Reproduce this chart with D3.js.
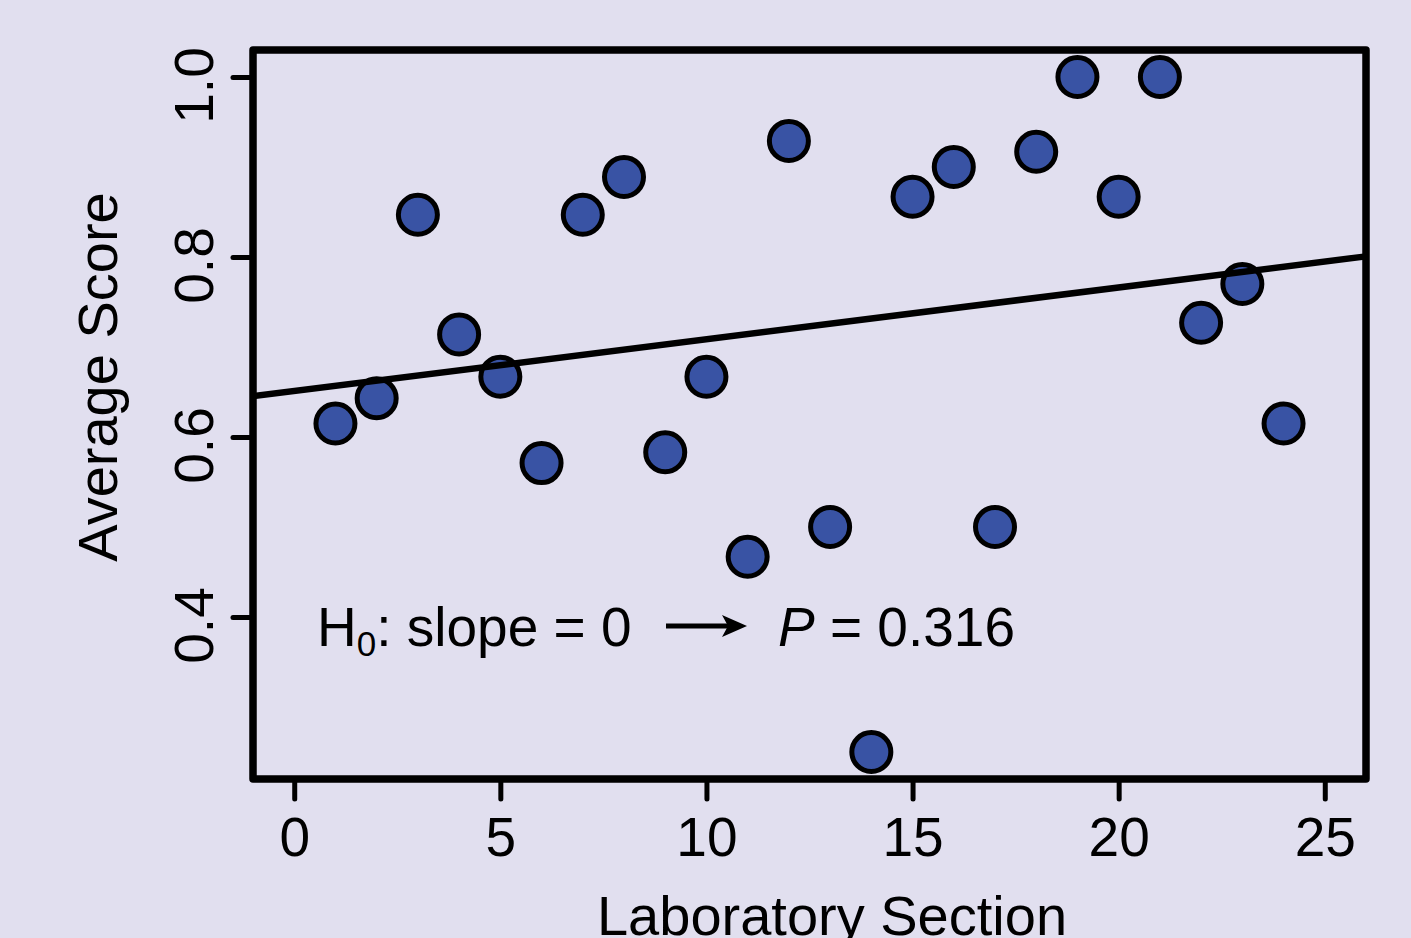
<!DOCTYPE html>
<html>
<head>
<meta charset="utf-8">
<script src="https://cdn.jsdelivr.net/npm/d3@7"></script>
<style>
  html, body { margin: 0; padding: 0; background: #e1dfef; }
  svg { display: block; font-family: "Liberation Sans", Arial, Helvetica, sans-serif; }
</style>
</head>
<body>
<script>
// Lab sections and their average scores
const sections = [1, 2, 3, 4, 5, 6, 7, 8, 9, 10, 11, 12, 13, 14, 15, 16, 17, 18, 19, 20, 21, 22, 23, 24];
const scores = [0.615, 0.643, 0.847, 0.714, 0.667, 0.571, 0.847, 0.889, 0.583, 0.667, 0.467, 0.929,
                0.5, 0.25, 0.867, 0.9, 0.5, 0.917, 1.0, 0.867, 1.0, 0.727, 0.77, 0.615];
const xTicks = [0, 5, 10, 15, 20, 25];
const yTicks = [0.4, 0.6, 0.8, 1.0];

const data = sections.map((s, i) => ({ x: s, y: scores[i] }));

// Least squares fit for the trend line
const mx = d3.mean(sections), my = d3.mean(scores);
const slope = d3.sum(data, d => (d.x - mx) * (d.y - my)) / d3.sum(data, d => (d.x - mx) ** 2);
const intercept = my - slope * mx;

const width = 1411, height = 938;
const svg = d3.select("body").append("svg")
    .attr("width", width)
    .attr("height", height);

const x = d3.scaleLinear().domain([-1, 26]).range([253, 1366]);
const y = d3.scaleLinear().domain([0.22, 1.03]).range([779, 50]);

// X axis
const xAxis = svg.append("g")
    .attr("transform", "translate(0,779)")
    .call(d3.axisBottom(x).tickValues(xTicks).tickSize(20).tickPadding(18).tickFormat(d3.format("d")));
xAxis.select(".domain").remove();
xAxis.selectAll(".tick line").attr("stroke", "black").attr("stroke-width", 5).attr("stroke-linecap", "round");
xAxis.selectAll(".tick text").attr("font-size", 55).attr("fill", "black");

// Y axis, labels rotated
const yAxis = svg.append("g")
    .attr("transform", "translate(253,0)")
    .call(d3.axisLeft(y).tickValues(yTicks).tickSize(20).tickFormat(d3.format(".1f")));
yAxis.select(".domain").remove();
yAxis.selectAll(".tick line").attr("stroke", "black").attr("stroke-width", 5).attr("stroke-linecap", "round");
yAxis.selectAll(".tick text")
    .attr("font-size", 55).attr("fill", "black")
    .attr("x", null).attr("dy", null)
    .attr("text-anchor", "middle")
    .attr("transform", "translate(-40,8) rotate(-90)");

// Plot frame
svg.append("rect")
    .attr("x", x(-1)).attr("y", y(1.03))
    .attr("width", x(26) - x(-1)).attr("height", y(0.22) - y(1.03))
    .attr("fill", "none").attr("stroke", "black").attr("stroke-width", 7.5)
    .attr("stroke-linejoin", "round");

// Points
svg.append("g").selectAll("circle")
    .data(data)
    .enter().append("circle")
    .attr("cx", d => x(d.x))
    .attr("cy", d => y(d.y))
    .attr("r", 19.5)
    .attr("fill", "#3953a4")
    .attr("stroke", "black")
    .attr("stroke-width", 5);

// Regression line
svg.append("line")
    .attr("x1", x(-1)).attr("y1", y(intercept + slope * -1))
    .attr("x2", x(26)).attr("y2", y(intercept + slope * 26))
    .attr("stroke", "black").attr("stroke-width", 6.5);

// Axis titles
svg.append("text")
    .attr("x", 832).attr("y", 935)
    .attr("text-anchor", "middle")
    .attr("font-size", 56)
    .text("Laboratory Section");

svg.append("text")
    .attr("transform", "translate(117,377) rotate(-90)")
    .attr("text-anchor", "middle")
    .attr("font-size", 56)
    .text("Average Score");

// Annotation
svg.append("defs").append("marker")
    .attr("id", "arrow")
    .attr("viewBox", "0 0 25 22")
    .attr("refX", 13).attr("refY", 11)
    .attr("markerWidth", 25).attr("markerHeight", 22)
    .attr("markerUnits", "userSpaceOnUse")
    .attr("orient", "auto")
    .append("path").attr("d", "M0,0 L25,11 L0,22 L6,11 Z").attr("fill", "black");

const note = svg.append("text")
    .attr("x", 317).attr("y", 646)
    .attr("font-size", 55);
note.append("tspan").text("H");
note.append("tspan").attr("font-size", 35).attr("dy", 10).text("0");
note.append("tspan").attr("dy", -10).text(": slope = 0");

svg.append("line")
    .attr("x1", 666).attr("y1", 626)
    .attr("x2", 735).attr("y2", 626)
    .attr("stroke", "black").attr("stroke-width", 5)
    .attr("marker-end", "url(#arrow)");

const pText = svg.append("text")
    .attr("x", 778).attr("y", 646)
    .attr("font-size", 55);
pText.append("tspan").attr("font-style", "italic").text("P");
pText.append("tspan").text(" = 0.316");
</script>
</body>
</html>
